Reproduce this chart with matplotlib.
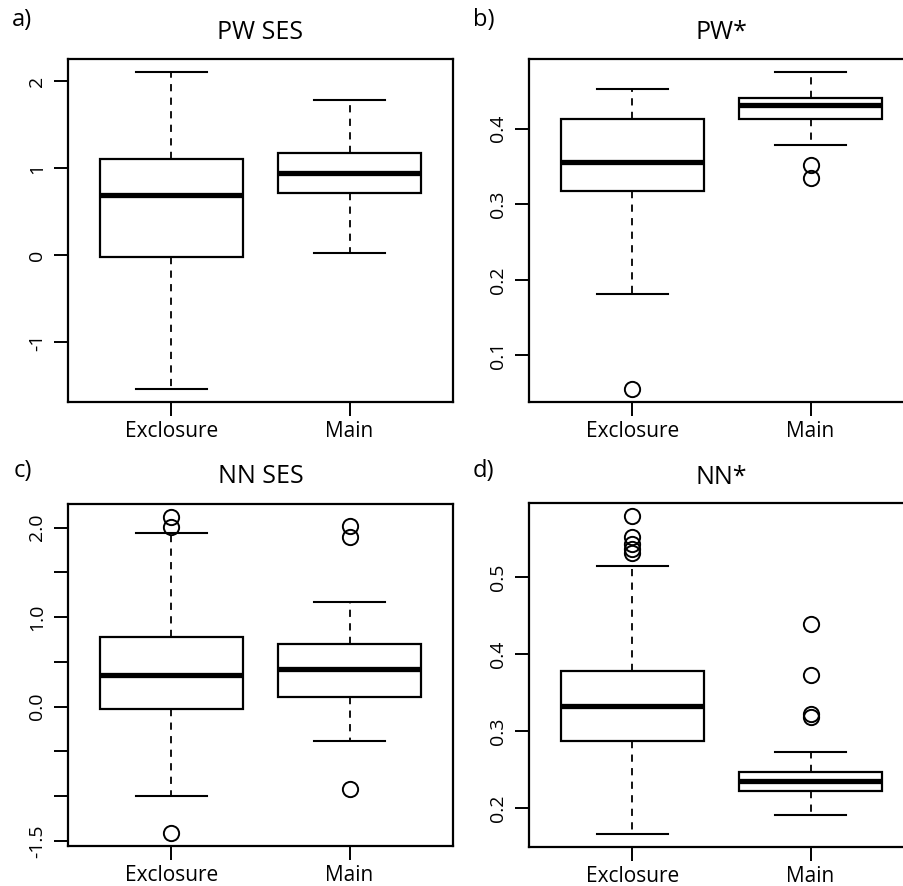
import matplotlib
matplotlib.use("Agg")
import matplotlib.pyplot as plt

plt.rcParams['font.family'] = ['Open Sans', 'DejaVu Sans']

categories = ['Exclosure', 'Main']

# a) PW SES
pwses_whislo = [-1.537, 0.027]
pwses_q1 = [-0.023, 0.711]
pwses_med = [0.688, 0.945]
pwses_q3 = [1.105, 1.178]
pwses_whishi = [2.107, 1.786]
pwses_fliers = [[], []]

# b) PW*
pw_whislo = [0.1813, 0.378]
pw_q1 = [0.3179, 0.4127]
pw_med = [0.3552, 0.4312]
pw_q3 = [0.4127, 0.4404]
pw_whishi = [0.4518, 0.4751]
pw_fliers = [[0.0553], [0.3517, 0.3341]]

# c) NN SES
nnses_whislo = [-0.993, -0.389]
nnses_q1 = [-0.026, 0.111]
nnses_med = [0.359, 0.415]
nnses_q3 = [0.778, 0.704]
nnses_whishi = [1.944, 1.167]
nnses_fliers = [[2.122, 2.011, -1.415], [2.019, 1.900, -0.915]]

# d) NN*
nn_whislo = [0.1661, 0.1917]
nn_q1 = [0.2868, 0.2221]
nn_med = [0.3324, 0.2360]
nn_q3 = [0.3784, 0.2473]
nn_whishi = [0.5148, 0.2733]
nn_fliers = [[0.5803, 0.5521, 0.5434, 0.5369, 0.5313], [0.4392, 0.3728, 0.3220, 0.3190]]

panels = [
    dict(letter='a)', title='PW SES', lo=pwses_whislo, q1=pwses_q1, med=pwses_med, q3=pwses_q3,
         hi=pwses_whishi, fl=pwses_fliers, ticks=[-1, 0, 1, 2], labels=['-1', '0', '1', '2'],
         box=(68, 59, 453, 402), lpos=(12, 8), tpad=19),
    dict(letter='b)', title='PW*', lo=pw_whislo, q1=pw_q1, med=pw_med, q3=pw_q3,
         hi=pw_whishi, fl=pw_fliers, ticks=[0.1, 0.2, 0.3, 0.4], labels=['0.1', '0.2', '0.3', '0.4'],
         box=(529, 59, 914, 402), lpos=(473, 8), tpad=19),
    dict(letter='c)', title='NN SES', lo=nnses_whislo, q1=nnses_q1, med=nnses_med, q3=nnses_q3,
         hi=nnses_whishi, fl=nnses_fliers, ticks=[-1.5, -1.0, -0.5, 0.0, 0.5, 1.0, 1.5, 2.0],
         labels=['-1.5', '', '', '0.0', '', '1.0', '', '2.0'],
         box=(68, 504, 453, 846), lpos=(14, 459), tpad=20),
    dict(letter='d)', title='NN*', lo=nn_whislo, q1=nn_q1, med=nn_med, q3=nn_q3,
         hi=nn_whishi, fl=nn_fliers, ticks=[0.2, 0.3, 0.4, 0.5], labels=['0.2', '0.3', '0.4', '0.5'],
         box=(529, 503, 914, 847), lpos=(473, 459), tpad=18),
]

W, H = 904, 886
fig = plt.figure(figsize=(W / 100, H / 100), dpi=100)

for p in panels:
    x0, y0, x1, y1 = p['box']
    ax = fig.add_axes([x0 / W, 1 - y1 / H, (x1 - x0) / W, (y1 - y0) / H])
    stats = []
    for i, cat in enumerate(categories):
        stats.append(dict(label=cat, med=p['med'][i], q1=p['q1'][i], q3=p['q3'][i],
                          whislo=p['lo'][i], whishi=p['hi'][i], fliers=p['fl'][i]))
    ax.bxp(stats, positions=[1, 2], widths=0.8, capwidths=0.4, patch_artist=True,
           boxprops=dict(facecolor='white', edgecolor='black', linewidth=1.6),
           medianprops=dict(color='black', linewidth=3.8, solid_capstyle='butt'),
           whiskerprops=dict(color='black', linewidth=1.3, linestyle=(0, (4, 3.5))),
           capprops=dict(color='black', linewidth=1.5),
           flierprops=dict(marker='o', markerfacecolor='none', markeredgecolor='black',
                           markersize=11, markeredgewidth=1.4))
    vals = p['lo'] + p['hi'] + [v for f in p['fl'] for v in f]
    vmin, vmax = min(vals), max(vals)
    r = vmax - vmin
    ax.set_ylim(vmin - 0.04 * r, vmax + 0.04 * r)
    ax.set_xlim(0.42, 2.58)
    ax.set_yticks(p['ticks'])
    ax.set_yticklabels(p['labels'], rotation=90, va='center')
    ax.set_xticks([1, 2])
    ax.set_xticklabels(categories)
    ax.tick_params(axis='both', direction='out', length=10, width=1.4, color='black')
    ax.tick_params(axis='x', labelsize=15, pad=4)
    ax.tick_params(axis='y', labelsize=14, pad=6)
    for s in ax.spines.values():
        s.set_linewidth(1.6)
    ax.annotate(p['title'], xy=(0.5, 1), xycoords='axes fraction', xytext=(0, p['tpad']),
                textcoords='offset points', ha='center', va='center', fontsize=18)
    fig.text(p['lpos'][0] / W, 1 - p['lpos'][1] / H, p['letter'], ha='left', va='top', fontsize=17)

fig.savefig('out.png', dpi=100, facecolor='white')
